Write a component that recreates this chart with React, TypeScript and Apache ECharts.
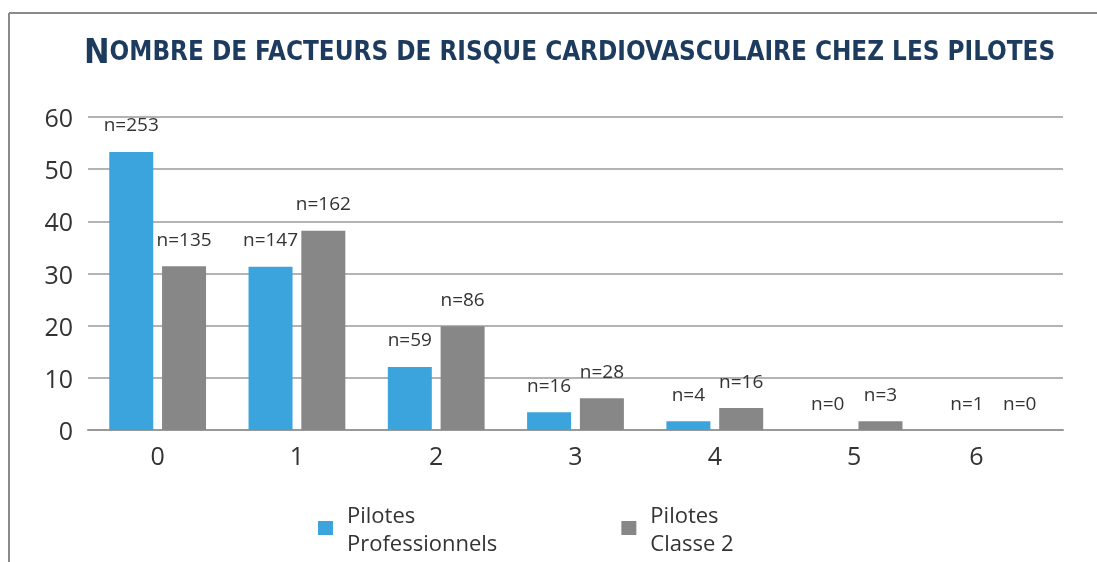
import React, { useEffect, useRef } from "react";
import * as echarts from "echarts";

const categories = ["0", "1", "2", "3", "4", "5", "6"];
const seriesNames = ["Pilotes\nProfessionnels", "Pilotes\nClasse 2"];
const proValues = [53.3, 31.3, 12.1, 3.4, 1.7, 0, 0];
const classe2Values = [31.4, 38.2, 19.9, 6.1, 4.2, 1.7, 0];
const proCounts = [253, 147, 59, 16, 4, 0, 1];
const classe2Counts = [135, 162, 86, 28, 16, 3, 0];
const yTicks = [0, 10, 20, 30, 40, 50, 60];

const TEXT = "#333333";
const FONT = "'Open Sans', 'Noto Sans', sans-serif";
const TITLE_FONT = "'DejaVu Sans Condensed', 'Liberation Sans Narrow', sans-serif";

export default function App() {
  const ref = useRef<HTMLDivElement>(null);
  useEffect(() => {
    document.body.style.margin = "0";
    const chart = echarts.init(ref.current!, null, { renderer: "svg" });
    const labelFor = (counts: number[]) => ({
      show: true,
      position: "top" as const,
      distance: 18,
      color: TEXT,
      fontFamily: FONT,
      fontSize: 19,
      formatter: (p: any) => "n=" + counts[p.dataIndex],
    });
    chart.setOption({
      animation: false,
      title: {
        text:
          "{a|N}{b|OMBRE DE FACTEURS DE RISQUE CARDIOVASCULAIRE CHEZ LES PILOTES}",
        left: 79,
        top: 29,
        textStyle: {
          rich: {
            a: {
              fontFamily: TITLE_FONT,
              fontWeight: "bold",
              fontSize: 34,
              color: "#1c3b5e",
            },
            b: {
              fontFamily: TITLE_FONT,
              fontWeight: "bold",
              fontSize: 25.8,
              color: "#1c3b5e",
            },
          },
        },
      },
      graphic: [
        {
          type: "line",
          shape: { x1: 9, y1: 13, x2: 1097, y2: 13 },
          style: { stroke: "#8a8a8a", lineWidth: 2 },
        },
        {
          type: "line",
          shape: { x1: 9, y1: 13, x2: 9, y2: 562 },
          style: { stroke: "#8a8a8a", lineWidth: 2 },
        },
      ],
      legend: {
        data: seriesNames,
        left: 313,
        top: 495,
        icon: "rect",
        itemWidth: 15,
        itemHeight: 14,
        itemGap: 124,
        textStyle: {
          color: TEXT,
          fontFamily: FONT,
          fontSize: 22,
          lineHeight: 28,
          padding: [0, 0, 0, 9],
        },
      },
      grid: { left: 88, right: 34, top: 117, bottom: 132 },
      xAxis: {
        type: "category",
        data: categories,
        axisLine: { lineStyle: { color: "#999999", width: 2 } },
        axisTick: { show: false },
        axisLabel: {
          color: TEXT,
          fontFamily: FONT,
          fontSize: 25,
          margin: 12,
          formatter: (v: string) => (v === "6" ? "{s|" + v + "}" : v),
          rich: {
            s: {
              color: TEXT,
              fontFamily: FONT,
              fontSize: 25,
              padding: [0, 34, 0, 0],
            },
          },
        },
      },
      yAxis: {
        type: "value",
        min: yTicks[0],
        max: yTicks[yTicks.length - 1],
        interval: 10,
        axisLine: { show: false },
        axisTick: { show: false },
        axisLabel: {
          color: TEXT,
          fontFamily: FONT,
          fontSize: 25,
          margin: 15,
        },
        splitLine: { lineStyle: { color: "#9a9a9a", width: 1.5 } },
      },
      series: [
        {
          name: seriesNames[0],
          type: "bar",
          data: proValues,
          barWidth: 44,
          barGap: "20%",
          itemStyle: { color: "#3ca4dc" },
          label: labelFor(proCounts),
        },
        {
          name: seriesNames[1],
          type: "bar",
          data: classe2Values,
          barWidth: 44,
          barGap: "20%",
          itemStyle: { color: "#878787" },
          label: labelFor(classe2Counts),
        },
      ],
    });
    return () => chart.dispose();
  }, []);
  return (
    <div
      ref={ref}
      style={{ position: "fixed", left: 0, top: 0, width: 1097, height: 562 }}
    />
  );
}
